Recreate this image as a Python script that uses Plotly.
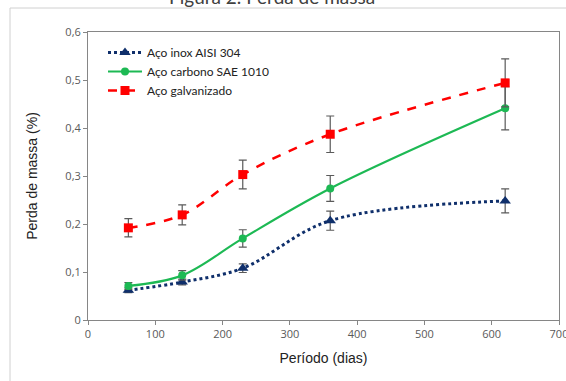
import plotly.graph_objects as go

dias = [60, 140, 230, 360, 620]

inox = [0.062, 0.079, 0.108, 0.207, 0.248]
inox_err = [0.005, 0.006, 0.009, 0.02, 0.025]

carbono = [0.071, 0.093, 0.170, 0.274, 0.441]
carbono_err = [0.007, 0.01, 0.018, 0.027, 0.045]

galv = [0.192, 0.219, 0.303, 0.387, 0.494]
galv_err = [0.019, 0.021, 0.03, 0.038, 0.05]

nomes = ["Aço inox AISI 304", "Aço carbono SAE 1010", "Aço galvanizado"]
x_ticks = [0, 100, 200, 300, 400, 500, 600, 700]
y_ticks = [0, 0.1, 0.2, 0.3, 0.4, 0.5, 0.6]

err_style = dict(type="data", visible=True, color="#5a5a5a", thickness=1.2, width=4)

fig = go.Figure()
fig.add_trace(go.Scatter(
    x=dias, y=inox, name=nomes[0], mode="lines+markers",
    line=dict(color="#0f2f6b", width=3, dash="dot", shape="spline"),
    marker=dict(symbol="triangle-up", size=10, color="#0f2f6b"),
    error_y=dict(array=inox_err, **err_style)))
fig.add_trace(go.Scatter(
    x=dias, y=carbono, name=nomes[1], mode="lines+markers",
    line=dict(color="#1db954", width=2.2, shape="spline"),
    marker=dict(symbol="circle", size=8, color="#1db954"),
    error_y=dict(array=carbono_err, **err_style)))
fig.add_trace(go.Scatter(
    x=dias, y=galv, name=nomes[2], mode="lines+markers",
    line=dict(color="#ff0000", width=2.5, dash="dash", shape="spline"),
    marker=dict(symbol="square", size=9, color="#ff0000"),
    error_y=dict(array=galv_err, **err_style)))

L, R, T, B = 88, 7, 32, 61
W, H = 566, 381
pw, ph = W - L - R, H - T - B

fig.update_layout(
    width=W, height=H,
    margin=dict(l=L, r=R, t=T, b=B, autoexpand=False),
    paper_bgcolor="white", plot_bgcolor="white",
    separators=",.",
    showlegend=True,
    legend=dict(x=(103 - L) / pw, y=1 - (38 - T) / ph, xanchor="left", yanchor="top",
                bgcolor="rgba(0,0,0,0)", font=dict(family="Lato", size=12, color="#222"),
                itemwidth=34, tracegroupgap=0),
    xaxis=dict(range=[0, 700], tickvals=x_ticks, showgrid=False, zeroline=False,
               automargin=False, ticklabeloverflow="allow",
               showline=True, linecolor="#868686", linewidth=1, mirror=True,
               ticks="outside", ticklen=4, tickcolor="#868686",
               tickfont=dict(family="Open Sans", size=11, color="#595959"),
               title=dict(text="Período (dias)", font=dict(family="Liberation Sans", size=14, color="#222"),
                          standoff=12)),
    yaxis=dict(range=[0, 0.6], tickvals=y_ticks, showgrid=False, zeroline=False,
               automargin=False, ticklabeloverflow="allow",
               showline=True, linecolor="#868686", linewidth=1, mirror=True,
               ticks="outside", ticklen=4, tickcolor="#868686",
               tickfont=dict(family="Open Sans", size=11, color="#595959"),
               title=dict(text="Perda de massa (%)", font=dict(family="Liberation Sans", size=14, color="#222"),
                          standoff=24)),
    shapes=[dict(type="rect", xref="paper", yref="paper",
                 x0=(10 - L) / pw, x1=1.2, y0=-0.5, y1=1 + (T - 8) / ph,
                 line=dict(color="#d0d0d0", width=1), layer="below")],
    annotations=[dict(text="Figura 2. Perda de massa", xref="paper", yref="paper",
                      x=(272 - L) / pw, y=1 + (T - 10) / ph, xanchor="center", yanchor="bottom",
                      showarrow=False, font=dict(family="Lato", size=19, color="#404040"))],
)

fig.write_html("out.html", config={"displayModeBar": False},
               post_script="document.body.style.margin='0';document.body.style.overflow='hidden';")
